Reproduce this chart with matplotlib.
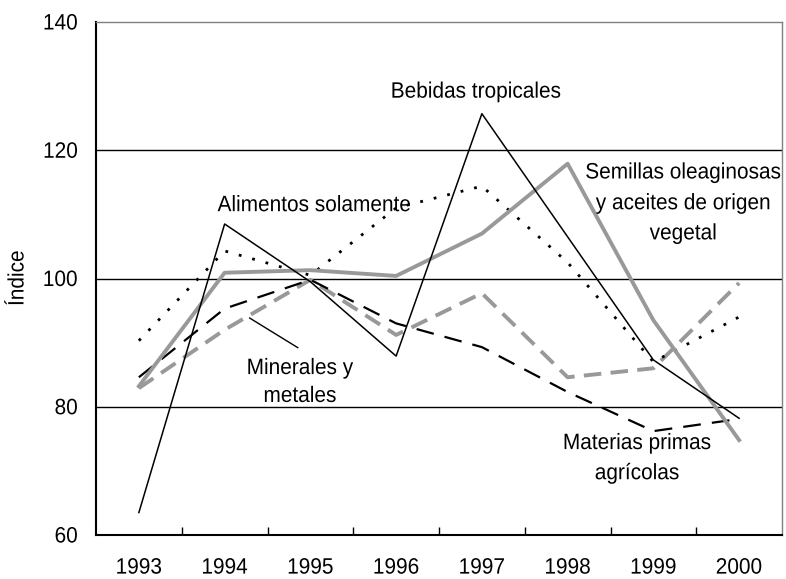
import matplotlib
matplotlib.use("Agg")
import matplotlib.pyplot as plt
from matplotlib.patheffects import AbstractPathEffect
from matplotlib.transforms import Affine2D
from matplotlib.text import Text

years = ["1993", "1994", "1995", "1996", "1997", "1998", "1999", "2000"]
bebidas = [63.5, 108.5, 99.5, 87.9, 125.7, 106.5, 87.3, 78.2]
alimentos = [90.3, 104.3, 100.5, 111.0, 114.4, 102.5, 87.0, 94.0]
semillas = [83.2, 100.9, 101.3, 100.4, 107.0, 117.9, 93.5, 74.8]
materias = [84.6, 95.3, 99.8, 93.0, 89.3, 82.3, 76.2, 78.1]
minerales = [82.9, 92.0, 99.8, 91.2, 97.7, 84.6, 86.0, 99.3]
yticks = [60, 80, 100, 120, 140]


class VStretch(AbstractPathEffect):
    """Stretch glyphs slightly in their own vertical direction."""
    def __init__(self, s):
        super().__init__()
        self.s = s

    def draw_path(self, renderer, gc, tpath, affine, rgbFace=None):
        renderer.draw_path(gc, tpath, Affine2D().scale(1, self.s) + affine, rgbFace)


plt.rcParams['font.family'] = ['Liberation Sans', 'DejaVu Sans']
fs = 15

fig = plt.figure(figsize=(7.86, 5.79), dpi=100)
ax = fig.add_axes([96/786, 1-535/579, (782-96)/786, (535-22)/579])
x = list(range(len(years)))

for v in [80, 100, 120]:
    ax.axhline(v, color='black', lw=1.0, zorder=1)

ax.plot(x, minerales, color='#999999', lw=2.8, ls=(0, (4.5, 2.4)), zorder=3)
ax.plot(x, materias, color='black', lw=1.6, ls=(0, (8, 5)), zorder=3)
ax.plot(x, alimentos, color='black', lw=2.0, ls=(0, (1, 4)), zorder=3)
ax.plot(x, semillas, color='#999999', lw=2.8, ls='-', zorder=3)
ax.plot(x, bebidas, color='black', lw=1.1, ls='-', zorder=4)

ax.set_xlim(-0.5, len(years) - 0.5)
ax.set_ylim(60, 140)
ax.set_yticks(yticks)
ax.set_yticklabels([str(t) for t in yticks], fontsize=fs)
ax.tick_params(axis='y', length=0, pad=13)
ax.set_xticks([i + 0.5 for i in range(len(years) - 1)])
ax.set_xticklabels([])
ax.tick_params(axis='x', which='major', direction='in', length=6, width=1)
ax.set_xticks(x, minor=True)
ax.set_xticklabels(years, minor=True, fontsize=fs)
ax.tick_params(axis='x', which='minor', length=0, pad=17)

for s in ['left', 'bottom']:
    ax.spines[s].set_linewidth(1.5)
    ax.spines[s].set_color('black')
for s in ['top', 'right']:
    ax.spines[s].set_linewidth(1.0)
    ax.spines[s].set_color('#808080')

kw = dict(ha='center', va='baseline', fontsize=fs)
ax.text(2.05, 110.5, "Alimentos solamente", **kw)
ax.text(3.93, 128.2, "Bebidas tropicales", **kw)
ax.text(6.35, 115.6, "Semillas oleaginosas", **kw)
ax.text(6.35, 110.8, "y aceites de origen", **kw)
ax.text(6.35, 106.1, "vegetal", **kw)
ax.text(1.88, 85.1, "Minerales y", **kw)
ax.text(1.88, 80.75, "metales", **kw)
ax.text(5.81, 73.4, "Materias primas", **kw)
ax.text(5.81, 68.7, "agrícolas", **kw)
ax.annotate("", xy=(1.29, 93.85), xytext=(1.855, 89.2),
            arrowprops=dict(arrowstyle='-', color='black', lw=1.0,
                            shrinkA=0, shrinkB=0))

fig.text(18/786, 1-278/579, "Índice", rotation=90, ha='center', va='center', fontsize=fs)

for t in fig.findobj(Text):
    t.set_path_effects([VStretch(1.07)])

fig.savefig("out.png", dpi=100)
